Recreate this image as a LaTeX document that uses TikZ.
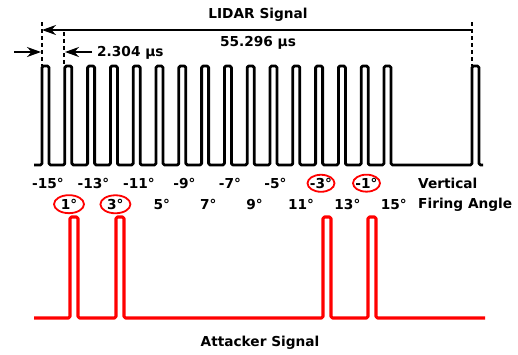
\documentclass[tikz,border=0pt]{standalone}
\usepackage{fontspec}
\setmainfont{DejaVu Sans}
\usetikzlibrary{arrows.meta}
\tikzset{
  lidar/.style={line width=2.8pt, rounded corners=1.5pt, line join=round},
  attack/.style={line width=3.1pt, red, rounded corners=1.5pt, line join=round},
  guide/.style={line width=1.7pt, dash pattern=on 4pt off 3pt},
  dimline/.style={line width=1.8pt, -{Stealth[length=14pt,width=10pt]}},
  lbl/.style={font=\fontsize{13.7}{20}\selectfont\bfseries, inner sep=0pt},
  ring/.style={draw=red, line width=1.8pt}
}
\begin{document}
\begin{tikzpicture}[x=1pt,y=-1pt]
\useasboundingbox (0,0) rectangle (518,354);
% lidar pulse train
\draw[lidar] (34,165) \foreach \i in {0,...,15}{ -- ({42+22.8*\i},165) -- ({42+22.8*\i},66) -- ({49+22.8*\i},66) -- ({49+22.8*\i},165) } -- (472,165) -- (472,66) -- (479,66) -- (479,165) -- (483,165);
% attacker pulses
\draw[attack] (34,318) \foreach \p in {70,116,323,368}{ -- (\p,318) -- (\p,217) -- (\p+8,217) -- (\p+8,318) } -- (485,318);
% guides
\coordinate (g0top) at (42,22);
\coordinate (g0bot) at (42,66);
\coordinate (g1top) at (64,32);
\coordinate (g1bot) at (64,66);
\coordinate (g16top) at (472,22);
\coordinate (g16bot) at (472,66);
\draw[guide] (g0top) -- (g0bot);
\draw[guide] (g1top) -- (g1bot);
\draw[guide] (g16top) -- (g16bot);
\coordinate (p0) at (42,30);
\coordinate (p16) at (472,30);
\draw[dimline, {Stealth[length=14pt,width=10pt]}-] (p0) -- (p16);
\coordinate (s0) at (14,52);
\coordinate (s1) at (41,52);
\coordinate (s2) at (65,52);
\draw[dimline] (s0) -- (s1);
\node[lbl, anchor=base west] (dt) at (97,56.5) {2.304 µs};
\draw[dimline] ([xshift=-5pt]dt.west |- s2) -- (s2);
\node[lbl, anchor=base] (title) at (258,18.3) {LIDAR Signal};
\node[lbl, anchor=base] (period) at (258,46.7) {55.296 µs};
\node[lbl, anchor=base] (attacker) at (260,346.7) {Attacker Signal};
% angles
\foreach \a [count=\k from 0] in {-15,-13,-11,-9,-7,-5,-3,-1}
  \node[lbl, anchor=base] (up\k) at ({48+45.5*\k},188.3) {\a°};
\foreach \a [count=\k from 0] in {1,3,5,7,9,11,13,15}
  \node[lbl, anchor=base] (lo\k) at ({69+46.4*\k},209.3) {\a°};
\node[lbl, anchor=west, align=left] (vfa) at (418,194.5) {Vertical\\Firing Angle};
\draw[ring] (up6) ellipse (13.5 and 8.5);
\draw[ring] (up7) ellipse (13.5 and 8.5);
\draw[ring] (lo0) ellipse (15 and 9);
\draw[ring] (lo1) ellipse (15 and 9);
\end{tikzpicture}
\end{document}
